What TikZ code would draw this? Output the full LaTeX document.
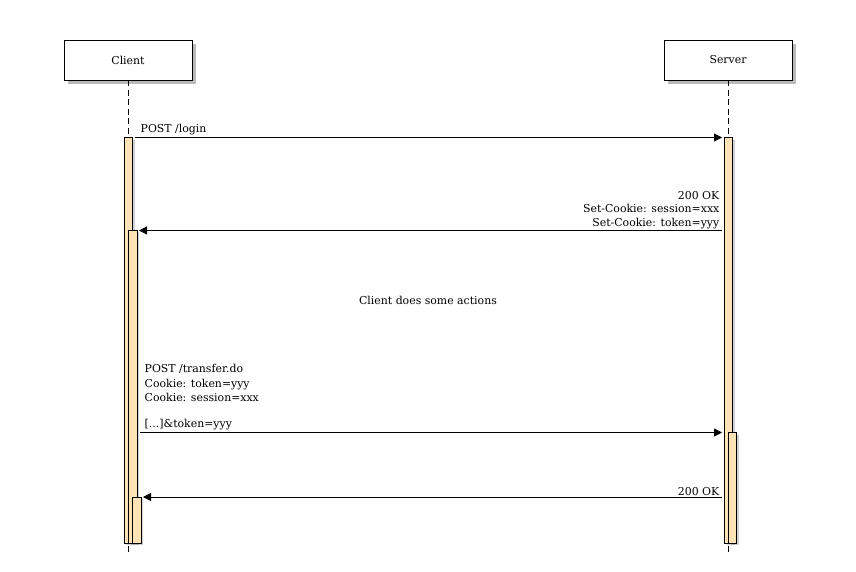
\documentclass[tikz,border=0pt]{standalone}
\usepackage{fontspec}
\setmainfont{DejaVu Serif}
\usetikzlibrary{arrows.meta,shadows}
\definecolor{actfill}{HTML}{FEE4B4}
\tikzset{
  x=1pt,y=-1pt,
  every node/.style={inner sep=0pt,font=\fontsize{10.9}{12}\selectfont},
  actor/.style={draw,fill=white,line width=0.8pt,minimum width=128pt,minimum height=40pt,
    drop shadow={shadow xshift=3.5pt,shadow yshift=-3.5pt,opacity=0.45,fill=black!60}},
  act/.style={draw,fill=actfill,line width=0.8pt,
    drop shadow={shadow xshift=2pt,shadow yshift=-2pt,opacity=0.3,fill=black!60}},
  life/.style={line width=0.8pt,dash pattern=on 6pt off 3.5pt},
  msg/.style={line width=0.8pt,-{Triangle[length=8pt,width=8pt]}},
  lbl/.style={text=black}
}
\begin{document}
\begin{tikzpicture}
\useasboundingbox (0,0) rectangle (856,571);
% lifelines
\coordinate (cbot) at (128,555);
\coordinate (sbot) at (728,555);
\node[actor] (client) at (128,60) {\raisebox{-1pt}{Client}};
\node[actor] (server) at (728,60) {\raisebox{-1pt}{Server}};
\draw[life] (client.south) -- (cbot);
\draw[life] (server.south) -- (sbot);
% activations
\draw[act] (124,137.5) rectangle (132.5,543);
\draw[act] (128.5,230) rectangle (137,543);
\draw[act] (132.5,497) rectangle (141,543);
\draw[act] (724.5,137.5) rectangle (732.5,543);
\draw[act] (728.5,432.5) rectangle (736.5,543);
% messages
\coordinate (m1s) at (135,137.5); \coordinate (m1e) at (722,137.5);
\coordinate (m2s) at (722,230.5); \coordinate (m2e) at (139,230.5);
\coordinate (m3s) at (140,432.5); \coordinate (m3e) at (722,432.5);
\coordinate (m4s) at (722,497); \coordinate (m4e) at (143,497);
\draw[msg] (m1s) -- (m1e);
\draw[msg] (m2s) -- (m2e);
\draw[msg] (m3s) -- (m3e);
\draw[msg] (m4s) -- (m4e);
% labels
\node[lbl,anchor=base west] (t1) at (140.5,132.5) {POST /login};
\node[lbl,anchor=base east] (t2a) at (719.5,199) {200 OK};
\node[lbl,anchor=base east] (t2b) at (719.5,212.5) {Set-Cookie: session=xxx};
\node[lbl,anchor=base east] (t2c) at (719.5,226) {Set-Cookie: token=yyy};
\node[lbl,anchor=base] (note) at (428,304.3) {Client does some actions};
\node[lbl,anchor=base west] (t3a) at (144.5,372.7) {POST /transfer.do};
\node[lbl,anchor=base west] (t3b) at (144.5,387) {Cookie: token=yyy};
\node[lbl,anchor=base west] (t3c) at (144.5,401.5) {Cookie: session=xxx};
\node[lbl,anchor=base west] (t3d) at (144.5,427) {[...]\&token=yyy};
\node[lbl,anchor=base east] (t4) at (719.5,495) {200 OK};
\end{tikzpicture}
\end{document}
